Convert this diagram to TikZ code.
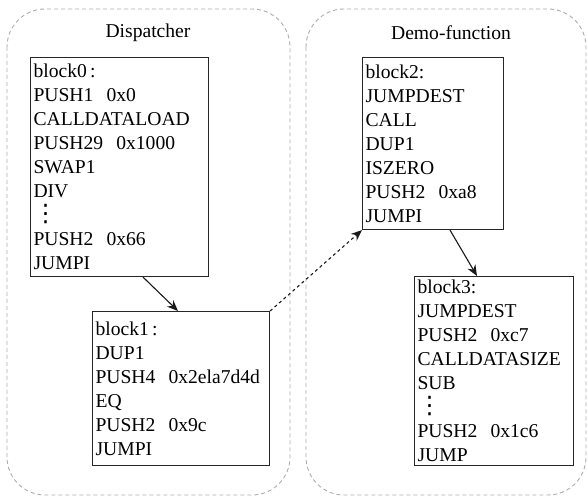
\documentclass[tikz,border=0pt]{standalone}
\usepackage{fontspec}
\setmainfont{Liberation Serif}
\newfontfamily\dvfont{DejaVu Sans}
\usetikzlibrary{arrows.meta}
\newcommand\myvdots{\hspace*{0pt}{\dvfont\fontsize{24}{24}\selectfont ⋮}}
\begin{document}
\begin{tikzpicture}[x=1pt,y=-1pt,
  container/.style={draw=gray!65,line width=0.9pt,dash pattern=on 4pt off 3pt,rounded corners=38pt},
  blk/.style={draw=black!85,line width=1.1pt,anchor=north west,align=left,inner xsep=3pt,inner ysep=0pt,
    font=\fontsize{19.6}{24}\selectfont},
  title/.style={font=\fontsize{19.6}{24}\selectfont},
  flow/.style={-{Stealth[length=11pt,width=9pt]},line width=1.1pt,black!90},
  jump/.style={flow,dashed}]
\useasboundingbox (0,0) rectangle (587,497);
\draw[container] (7,9) rectangle (290,495);
\draw[container] (306,9) rectangle (586,495);
\node[title] (t1) at (148,33) {Dispatcher};
\node[title] (t2) at (451,33) {Demo-function};
\node[blk,text width=172pt,minimum height=219pt] (b0) at (30,57) {block0\,:\\PUSH1\ \ 0x0\\CALLDATALOAD\\PUSH29\ \ 0x1000\\SWAP1\\DIV\\\myvdots\\PUSH2\ \ 0x66\\JUMPI};
\node[blk,text width=171pt,minimum height=154pt] (b1) at (92,311) {block1\,:\\DUP1\\PUSH4\ \ 0x2ela7d4d\\EQ\\PUSH2\ \ 0x9c\\JUMPI};
\node[blk,text width=135pt,minimum height=172pt] (b2) at (362,57) {block2:\\JUMPDEST\\CALL\\DUP1\\ISZERO\\PUSH2\ \ 0xa8\\JUMPI};
\node[blk,text width=153pt,minimum height=189pt] (b3) at (414,276) {block3:\\JUMPDEST\\PUSH2\ \ 0xc7\\CALLDATASIZE\\SUB\\\myvdots\\PUSH2\ \ 0x1c6\\JUMP};
\draw[flow] ([xshift=113pt]b0.south west) -- ([xshift=86pt]b1.north west);
\draw[jump] (b1.north east) -- (b2.south west);
\draw[flow] ([xshift=88pt]b2.south west) -- ([xshift=63pt]b3.north west);
\end{tikzpicture}
\end{document}
